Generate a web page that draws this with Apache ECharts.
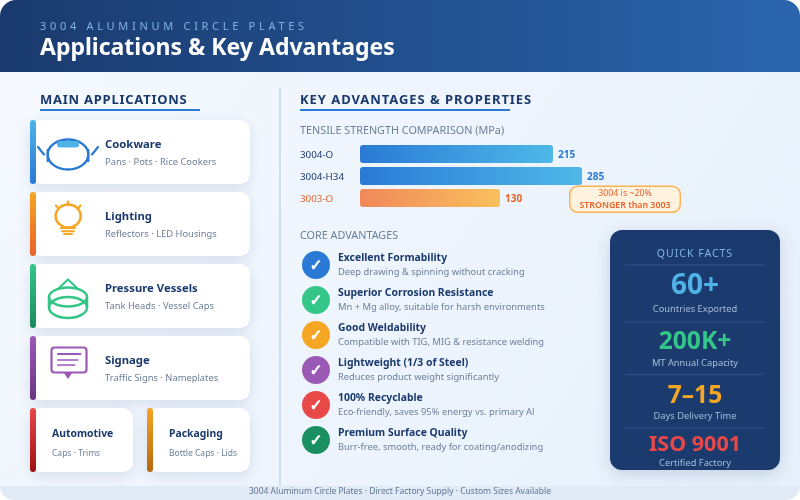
<!DOCTYPE html>
<html>
<head>
<meta charset="utf-8">
<style>
html,body{margin:0;padding:0;background:#fff;}
#c{width:800px;height:500px;}
</style>
<script src="https://cdn.jsdelivr.net/npm/echarts@6/dist/echarts.min.js"></script>
</head>
<body>
<div id="c"></div>
<script>
// ---- data ----
const kicker = '3004 ALUMINUM CIRCLE PLATES';
const pageTitle = 'Applications & Key Advantages';
const leftHeading = 'MAIN APPLICATIONS';
const rightHeading = 'KEY ADVANTAGES & PROPERTIES';
const barHeading = 'TENSILE STRENGTH COMPARISON (MPa)';
const coreHeading = 'CORE ADVANTAGES';
const factsHeading = 'QUICK FACTS';
const footerText = '3004 Aluminum Circle Plates · Direct Factory Supply · Custom Sizes Available';

const alloys = ['3004-O', '3004-H34', '3003-O'];
const tensileLabels = [215, 285, 130];       // printed values
const drawnBarLengths = [193, 222, 140];     // the source's bars are not to scale: lengths as drawn
const calloutLines = ['3004 is ~20%', 'STRONGER than 3003'];

const appTitles = ['Cookware', 'Lighting', 'Pressure Vessels', 'Signage', 'Automotive', 'Packaging'];
const appSubs = ['Pans · Pots · Rice Cookers', 'Reflectors · LED Housings', 'Tank Heads · Vessel Caps',
  'Traffic Signs · Nameplates', 'Caps · Trims', 'Bottle Caps · Lids'];

const advTitles = ['Excellent Formability', 'Superior Corrosion Resistance', 'Good Weldability',
  'Lightweight (1/3 of Steel)', '100% Recyclable', 'Premium Surface Quality'];
const advSubs = ['Deep drawing & spinning without cracking', 'Mn + Mg alloy, suitable for harsh environments',
  'Compatible with TIG, MIG & resistance welding', 'Reduces product weight significantly',
  'Eco-friendly, saves 95% energy vs. primary Al', 'Burr-free, smooth, ready for coating/anodizing'];
const advColors = ['#2a7ad5', '#34c688', '#f5a623', '#9b59b6', '#e84848', '#1a9060'];

const factValues = ['60+', '200K+', '7–15', 'ISO 9001'];
const factLabels = ['Countries Exported', 'MT Annual Capacity', 'Days Delivery Time', 'Certified Factory'];
const factColors = ['#4fb3e8', '#34c688', '#f5a623', '#e84848'];

// ---- letter spacing for tracked headings (canvas state, text stays whole) ----
const FONT = '"Noto Sans", "Open Sans", sans-serif';
const tracking = {};
tracking[kicker] = '3.7px';
tracking[leftHeading] = '0.75px';
tracking[rightHeading] = '0.94px';
tracking[factsHeading] = '1px';
const nativeFill = CanvasRenderingContext2D.prototype.fillText;
CanvasRenderingContext2D.prototype.fillText = function (t, x, y, m) {
  const f = this.font;
  this.letterSpacing = tracking[t] || '0px';
  this.font = f;
  if (m === undefined) nativeFill.call(this, t, x, y); else nativeFill.call(this, t, x, y, m);
  this.letterSpacing = '0px';
  this.font = f;
};

const NAVY = '#1a3a6e', GREY = '#6b7f9a', BLUE = '#2a7ad5', SKY = '#4fb3e8';
const grad = (x2, y2, a, b) => new echarts.graphic.LinearGradient(0, 0, x2, y2, [{offset: 0, color: a}, {offset: 1, color: b}]);

const g = [];
const rect = (x, y, w, h, r, fill, extra) => g.push(Object.assign({type: 'rect', shape: {x, y, width: w, height: h, r}, style: {fill}, silent: true}, extra || {}));
const text = (s, x, y, font, fill, align, z, family, extra) => g.push({type: 'text', z: z || 1, silent: true,
  style: Object.assign({text: s, x, y: y + 1, font: font + ' ' + (family || FONT), fill, align: align || 'left', verticalAlign: 'middle', textAlign: align || 'left', textVerticalAlign: 'middle'}, extra || {})});
const stroke = (color, w) => ({fill: 'none', stroke: color, lineWidth: w, lineCap: 'round', lineJoin: 'round'});
const ell = (cx, cy, rx, ry, color, w) => g.push({type: 'ellipse', shape: {cx, cy, rx, ry}, style: stroke(color, w), silent: true, z: 1});
const line = (x1, y1, x2, y2, color, w) => g.push({type: 'line', shape: {x1, y1, x2, y2}, style: stroke(color, w), silent: true, z: 1});
const poly = (points, color, w) => g.push({type: 'polyline', shape: {points}, style: stroke(color, w), silent: true, z: 1});

// page
rect(0, 0, 800, 500, 16, grad(1, 1, '#f6f9ff', '#e6f0fb'));
rect(0, 0, 800, 72, [16, 16, 0, 0], grad(1, 0, '#1a3a6e', '#2a65ad'));
rect(0, 486, 800, 14, [0, 0, 16, 16], '#e1ebf7');
text(kicker, 40, 25.5, '11px', '#7fb3e0');
text(pageTitle, 40, 47.5, 'bold 23px', '#ffffff');
text(footerText, 400, 491, '8.5px', '#5f7590', 'center');

// headings
text(leftHeading, 40, 99.5, 'bold 13px', NAVY);
rect(40, 109, 160, 2, 0, BLUE);
text(rightHeading, 300, 99.5, 'bold 13px', NAVY);
rect(300, 109, 210, 2, 0, BLUE);
rect(279, 88, 2, 398, 0, '#cfdcec');

// application cards
const cardBox = [[30, 120, 220], [30, 192, 220], [30, 264, 220], [30, 336, 220], [30, 408, 103], [147, 408, 103]];
const accents = [['#4fb3e8', '#2a7ad5'], ['#f5a623', '#e8622a'], ['#34c688', '#1a8a60'], ['#9b59b6', '#6c3483'], ['#e84848', '#a01010'], ['#f5a623', '#b8680e']];
appTitles.forEach((t, i) => {
  const [x, y, w] = cardBox[i];
  rect(x, y, w, 64, 10, '#ffffff', {style: {fill: '#ffffff', shadowBlur: 14, shadowOffsetY: 4, shadowColor: 'rgba(26,58,110,0.13)'}});
  rect(x, y, 6, 64, 3, grad(0, 1, accents[i][0], accents[i][1]), {z: 1});
  const big = i < 4;
  const tx = big ? x + 75 : x + 22;
  text(t, tx, y + (big ? 23.5 : 25.5), big ? 'bold 11.3px' : 'bold 10.4px', NAVY);
  text(appSubs[i], tx, y + (big ? 41.5 : 44.5), big ? '9.35px' : '8.5px', GREY);
});

// cookware
ell(68, 154.5, 20.3, 15, BLUE, 2.4);
line(47.8, 150, 47.8, 161, BLUE, 2.4);
line(88.2, 150, 88.2, 161, BLUE, 2.4);
rect(57, 141, 22, 6.5, 3, SKY, {z: 2});
line(38, 147, 44, 154.5, BLUE, 2.2);
line(98, 147, 92, 154.5, BLUE, 2.2);
// lighting
const LC = '#f5a623';
ell(68.2, 216, 12.5, 11.5, LC, 2.6);
line(68, 201.5, 68, 205, LC, 2.2);
line(56, 205.5, 59, 208.5, LC, 2.2);
line(80.5, 205.5, 77.5, 208.5, LC, 2.2);
line(61, 228, 75, 228, LC, 2.2);
line(62, 231.3, 74, 231.3, LC, 2);
line(64, 234, 72, 234, LC, 2);
// vessel
const VC = '#34c688';
ell(68, 297, 19, 9.5, VC, 2.5);
ell(68, 307.5, 19, 10.5, VC, 2.5);
line(49, 297, 49, 307.5, VC, 2.5);
line(87, 297, 87, 307.5, VC, 2.5);
poly([[59, 288], [68, 279.5], [77, 288]], VC, 2.2);
// sign
const SC = '#9b59b6';
g.push({type: 'rect', shape: {x: 51.5, y: 347.5, width: 35, height: 25, r: 3}, style: stroke(SC, 2.2), silent: true, z: 1});
line(58, 354, 80.5, 354, SC, 2);
line(58, 360, 77.5, 360, '#b57fd0', 2);
line(58, 365, 74.5, 365, '#b57fd0', 2);
g.push({type: 'polygon', shape: {points: [[64, 373], [72, 373], [68, 379]]}, style: {fill: SC}, silent: true, z: 1});

// tensile headings + callout
text(barHeading, 300, 130, '10.8px', GREY);
g.push({type: 'rect', z: 10, silent: true, shape: {x: 569.75, y: 186.25, width: 110.5, height: 26, r: 8}, style: {fill: '#fff3e0', stroke: '#f9b350', lineWidth: 1.5}});
text(calloutLines[0], 625, 192.5, '8.8px', '#e8622a', 'center', 11);
text(calloutLines[1], 625, 204, '600 8.8px', '#e8622a', 'center', 11);

// core advantages
text(coreHeading, 300, 235, '10.8px', GREY);
advTitles.forEach((t, i) => {
  const cy = 265 + i * 35;
  g.push({type: 'circle', z: 1, silent: true, shape: {cx: 316, cy, r: 14}, style: {fill: advColors[i]}});
  text('✓', 316, cy + 0.5, 'bold 15px', '#ffffff', 'center', 2, '"DejaVu Sans", sans-serif', {stroke: '#ffffff', lineWidth: 0.9});
  text(t, 338, cy - 8, 'bold 10.4px', NAVY);
  text(advSubs[i], 338, cy + 6.5, '9.35px', GREY);
});

// quick facts
rect(610, 230, 170, 240, 12, '#1b3a6e', {style: {fill: '#1b3a6e', shadowBlur: 16, shadowOffsetY: 4, shadowColor: 'rgba(26,58,110,0.18)'}});
text(factsHeading, 695, 253, '10.5px', '#7fb3e0', 'center');
[265, 322, 374.5, 428].forEach(y => rect(625, y - 0.75, 140, 1.5, 0, '#2a4d82', {z: 1}));
const valueY = [285, 341, 395, 444], labelY = [308.5, 362, 415, 462], valueSize = [28, 24.6, 24.6, 21.5];
factValues.forEach((v, i) => {
  text(v, 695, valueY[i], 'bold ' + valueSize[i] + 'px', factColors[i], 'center');
  text(factLabels[i], 695, labelY[i], '9.3px', '#a4bdd9', 'center');
});

const barFill = [grad(1, 0, '#2a7ad5', '#4fb8e8'), grad(1, 0, '#2a7ad5', '#4fb8e8'), grad(1, 0, '#f0885a', '#f9c05c')];
const labelInk = [NAVY, NAVY, '#e8622a'];
const valueInk = [BLUE, BLUE, '#e8622a'];

const chart = echarts.init(document.getElementById('c'), null, {renderer: 'canvas', width: 800, height: 500, devicePixelRatio: 1});
chart.setOption({
  animation: false,
  backgroundColor: 'transparent',
  grid: {left: 360, top: 143, width: 400, height: 66, containLabel: false},
  xAxis: {type: 'value', min: 0, max: 400, show: false},
  yAxis: {
    type: 'category', data: alloys, inverse: true,
    axisLine: {show: false}, axisTick: {show: false},
    axisLabel: {
      margin: 60, align: 'left', fontFamily: FONT, fontSize: 9.8,
      formatter: (v, i) => '{c' + i + '|' + v + '}',
      rich: {
        c0: {color: labelInk[0], fontFamily: FONT, fontSize: 9.8, padding: [2, 0, 0, 0]},
        c1: {color: labelInk[1], fontFamily: FONT, fontSize: 9.8, padding: [2, 0, 0, 0]},
        c2: {color: labelInk[2], fontFamily: FONT, fontSize: 9.8, padding: [2, 0, 0, 0]}
      }
    }
  },
  series: [{
    type: 'bar', barWidth: 18, silent: true,
    data: drawnBarLengths.map((v, i) => ({
      value: v,
      itemStyle: {color: barFill[i], borderRadius: 3},
      label: {
        show: true, position: 'right', distance: 5,
        formatter: String(tensileLabels[i]), offset: [0, 1],
        color: valueInk[i], fontFamily: FONT, fontWeight: 'bold', fontSize: 10
      }
    }))
  }],
  graphic: {elements: g}
});
</script>
</body>
</html>
